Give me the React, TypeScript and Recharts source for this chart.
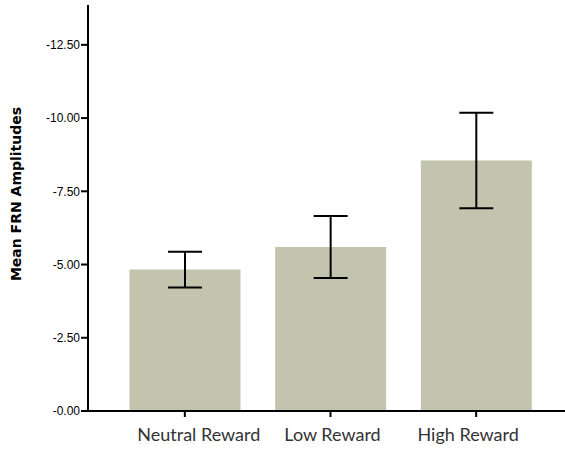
import React from "react";
import { BarChart, Bar, XAxis, YAxis, ErrorBar, Label } from "recharts";

// Mean FRN amplitude per reward condition (stored as magnitudes, shown negative)
const conditions = ["Neutral Reward", "Low Reward", "High Reward"];
const meanAmplitude = [4.83, 5.6, 8.55];
const errorAmplitude = [0.61, 1.06, 1.63];
const yTicks = [0, 2.5, 5, 7.5, 10, 12.5];

const data = conditions.map((name, i) => ({
  name,
  mean: meanAmplitude[i],
  err: errorAmplitude[i],
}));

// category labels sit slightly off their tick marks
const labelNudge = [14, 2, -8];

const CategoryTick = (props: any) => {
  const { x, y, payload, index } = props;
  return (
    <text
      x={x + (labelNudge[index] ?? 0)}
      y={y}
      dy="0.71em"
      textAnchor="middle"
      fill="#333"
      fontSize={18}
      fontFamily="Lato"
    >
      {payload.value}
    </text>
  );
};

export default function App() {
  return (
    <div style={{ position: "absolute", left: 0, top: 0, background: "#fff" }}>
      <BarChart
        width={565}
        height={449}
        data={data}
        margin={{ top: 5, right: 0, left: 0, bottom: 0 }}
        barCategoryGap="12%"
      >
        <XAxis
          dataKey="name"
          height={38}
          padding={{ left: 24, right: 16 }}
          axisLine={{ stroke: "#000", strokeWidth: 2 }}
          tickLine={{ stroke: "#000", strokeWidth: 2 }}
          tickSize={6}
          tickMargin={11}
          tick={<CategoryTick />}
        />
        <YAxis
          width={88}
          domain={[0, 13.86]}
          ticks={yTicks}
          allowDataOverflow
          axisLine={{ stroke: "#000", strokeWidth: 2 }}
          tickLine={{ stroke: "#000", strokeWidth: 2 }}
          tickSize={7}
          tickMargin={1}
          tickFormatter={(v: number) => `-${v.toFixed(2)}`}
          tick={{ fill: "#000", fontSize: 12, fontFamily: "Liberation Sans" }}
        >
          <Label
            value="Mean FRN Amplitudes"
            angle={-90}
            position="insideLeft"
            offset={16}
            dy={-14}
            style={{
              textAnchor: "middle",
              fontFamily: "DejaVu Sans",
              fontWeight: 700,
              fontSize: 14,
              fill: "#000",
            }}
          />
        </YAxis>
        <Bar dataKey="mean" fill="#c2c4ae" isAnimationActive={false}>
          <ErrorBar
            dataKey="err"
            width={17}
            stroke="#000"
            strokeWidth={2}
            isAnimationActive={false}
          />
        </Bar>
      </BarChart>
    </div>
  );
}
